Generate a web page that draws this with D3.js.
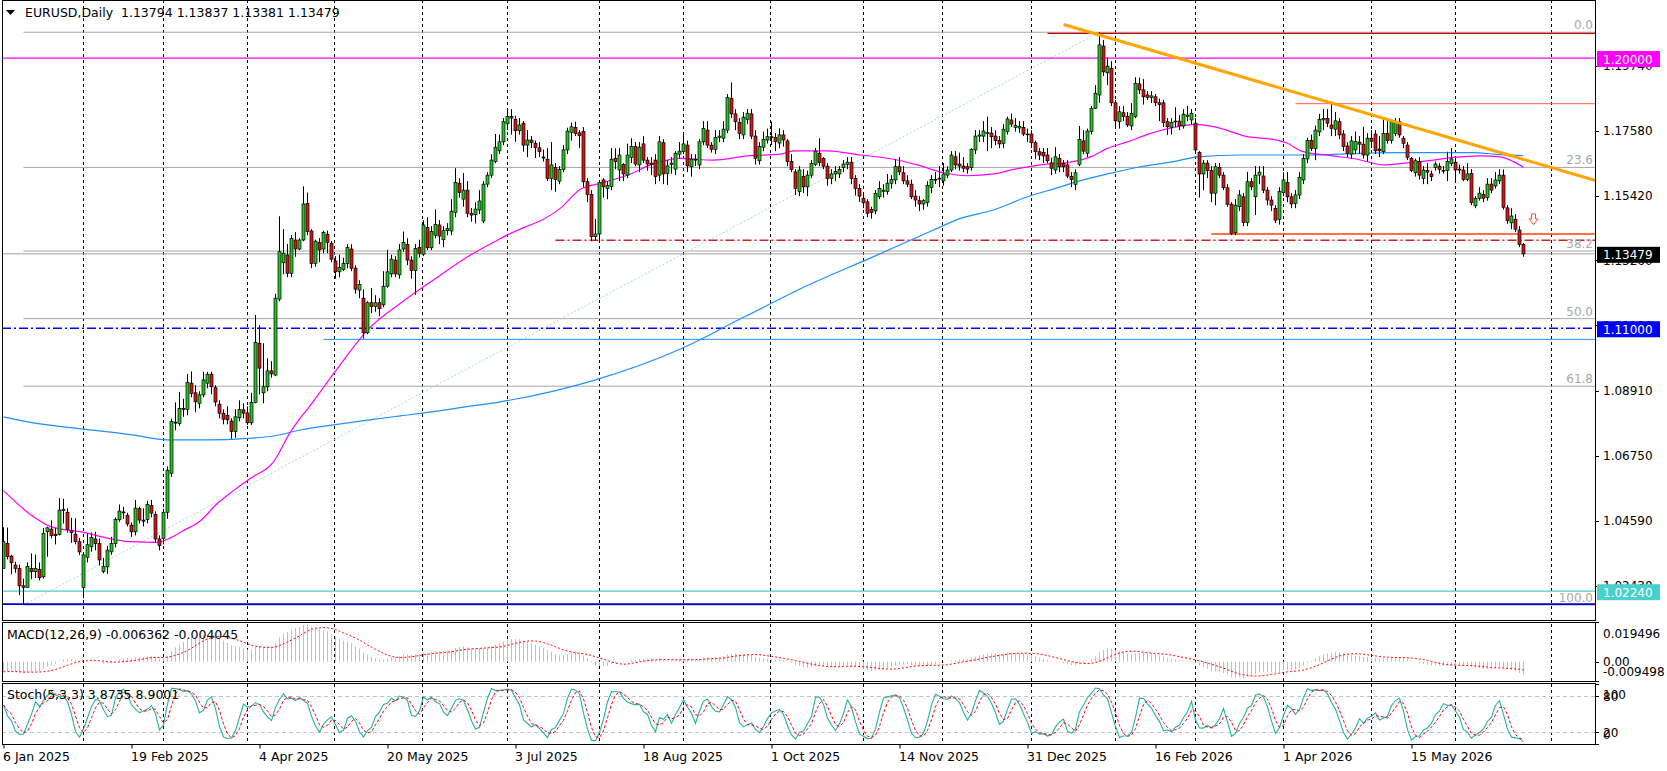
<!DOCTYPE html>
<html>
<head>
<meta charset="utf-8">
<script src="https://d3js.org/d3.v7.min.js"></script>
<style>
body{margin:0;background:#fff;}
svg{display:block;font-family:"DejaVu Sans",sans-serif;font-size:12px;}
</style>
</head>
<body>
<svg id="chart" width="1667" height="771"></svg>
<script>
// ---- daily EURUSD candles (bar 0 = 6 Jan 2025) ----
var opens = [
1.0300,1.0383,1.0341,1.0311,1.0300,1.0242,1.0237,1.0300,1.0289,1.0297,
1.0272,1.0422,1.0431,1.0414,1.0413,1.0494,1.0487,1.0425,1.0414,1.0389,
1.0237,1.0337,1.0372,1.0398,1.0383,1.0290,1.0305,1.0355,1.0383,1.0462,
1.0488,1.0477,1.0444,1.0422,1.0499,1.0461,1.0463,1.0510,1.0480,1.0398,
1.0400,1.0487,1.0617,1.0787,1.0783,1.0833,1.0829,1.0917,1.0885,1.0850,
1.0878,1.0917,1.0947,1.0902,1.0847,1.0817,1.0810,1.0791,1.0756,1.0802,
1.0828,1.0818,1.0785,1.0853,1.1050,1.0885,1.0905,1.0958,1.0944,1.1197,
1.1318,1.1344,1.1283,1.1394,1.1364,1.1394,1.1516,1.1424,1.1316,1.1386,
1.1364,1.1413,1.1383,1.1324,1.1288,1.1296,1.1316,1.1364,1.1300,1.1227,
1.1200,1.1085,1.1185,1.1172,1.1185,1.1178,1.1240,1.1281,1.1327,1.1278,
1.1364,1.1379,1.1327,1.1292,1.1369,1.1347,1.1436,1.1368,1.1410,1.1444,
1.1395,1.1425,1.1424,1.1486,1.1583,1.1530,1.1560,1.1483,1.1479,1.1494,
1.1457,1.1580,1.1610,1.1655,1.1691,1.1721,1.1781,1.1805,1.1796,1.1758,
1.1783,1.1710,1.1727,1.1716,1.1701,1.1670,1.1663,1.1599,1.1635,1.1590,
1.1629,1.1694,1.1752,1.1769,1.1751,1.1755,1.1588,1.1546,1.1405,1.1414,
1.1594,1.1566,1.1572,1.1666,1.1627,1.1646,1.1610,1.1669,1.1705,1.1644,
1.1714,1.1660,1.1650,1.1660,1.1610,1.1718,1.1616,1.1645,1.1630,1.1680,
1.1688,1.1710,1.1638,1.1663,1.1644,1.1721,1.1760,1.1710,1.1696,1.1736,
1.1733,1.1760,1.1866,1.1814,1.1785,1.1744,1.1796,1.1814,1.1740,1.1658,
1.1703,1.1727,1.1738,1.1736,1.1717,1.1744,1.1724,1.1655,1.1621,1.1555,
1.1605,1.1571,1.1610,1.1646,1.1683,1.1666,1.1640,1.1599,1.1614,1.1614,
1.1636,1.1646,1.1653,1.1599,1.1566,1.1533,1.1521,1.1496,1.1491,1.1538,
1.1556,1.1556,1.1583,1.1594,1.1638,1.1618,1.1591,1.1580,1.1540,1.1525,
1.1514,1.1519,1.1569,1.1596,1.1597,1.1591,1.1610,1.1627,1.1671,1.1647,
1.1640,1.1638,1.1636,1.1694,1.1740,1.1740,1.1750,1.1750,1.1740,1.1725,
1.1716,1.1755,1.1794,1.1769,1.1767,1.1769,1.1747,1.1747,1.1718,1.1688,
1.1685,1.1677,1.1651,1.1627,1.1666,1.1649,1.1644,1.1605,1.1579,1.1646,
1.1724,1.1683,1.1755,1.1833,1.1877,1.2040,1.1951,1.1966,1.1851,1.1788,
1.1818,1.1805,1.1774,1.1805,1.1914,1.1894,1.1877,1.1869,1.1871,1.1851,
1.1851,1.1788,1.1770,1.1790,1.1790,1.1774,1.1806,1.1794,1.1783,1.1685,
1.1614,1.1650,1.1625,1.1550,1.1635,1.1610,1.1568,1.1513,1.1418,1.1505,
1.1538,1.1452,1.1588,1.1538,1.1610,1.1607,1.1560,1.1527,1.1499,1.1463,
1.1552,1.1585,1.1538,1.1516,1.1544,1.1594,1.1664,1.1725,1.1699,1.1754,
1.1794,1.1799,1.1777,1.1763,1.1788,1.1747,1.1707,1.1680,1.1694,1.1720,
1.1713,1.1677,1.1733,1.1747,1.1697,1.1688,1.1749,1.1725,1.1749,1.1788,
1.1733,1.1710,1.1666,1.1618,1.1655,1.1599,1.1625,1.1614,1.1636,1.1640,
1.1625,1.1625,1.1649,1.1653,1.1630,1.1627,1.1596,1.1616,1.1508,1.1533,
1.1546,1.1536,1.1580,1.1574,1.1591,1.1610,1.1501,1.1451,1.1463,1.1427,1.13794];
var highs = [
1.0437,1.0436,1.0345,1.0322,1.0313,1.0266,1.0320,1.0350,1.0346,1.0320,
1.0435,1.0439,1.0460,1.0435,1.0534,1.0532,1.0500,1.0468,1.0467,1.0401,
1.0350,1.0418,1.0420,1.0422,1.0400,1.0335,1.0375,1.0405,1.0470,1.0513,
1.0505,1.0485,1.0453,1.0528,1.0505,1.0500,1.0525,1.0528,1.0490,1.0410,
1.0499,1.0640,1.0799,1.0853,1.0888,1.0865,1.0947,1.0956,1.0910,1.0890,
1.0955,1.0955,1.0955,1.0910,1.0860,1.0830,1.0840,1.0800,1.0830,1.0860,
1.0850,1.0840,1.0885,1.1144,1.1110,1.1050,1.1000,1.0990,1.1215,1.1473,
1.1430,1.1381,1.1410,1.1420,1.1400,1.1573,1.1552,1.1430,1.1395,1.1400,
1.1425,1.1425,1.1390,1.1340,1.1345,1.1335,1.1380,1.1380,1.1310,1.1260,
1.1230,1.1190,1.1234,1.1210,1.1200,1.1290,1.1361,1.1345,1.1340,1.1380,
1.1422,1.1400,1.1340,1.1380,1.1395,1.1460,1.1470,1.1440,1.1496,1.1460,
1.1440,1.1450,1.1530,1.1633,1.1600,1.1617,1.1590,1.1500,1.1520,1.1560,
1.1590,1.1620,1.1680,1.1747,1.1745,1.1800,1.1830,1.1830,1.1808,1.1800,
1.1790,1.1760,1.1740,1.1725,1.1720,1.1695,1.1700,1.1720,1.1650,1.1640,
1.1710,1.1768,1.1785,1.1788,1.1760,1.1770,1.1600,1.1560,1.1464,1.1590,
1.1600,1.1590,1.1700,1.1699,1.1700,1.1650,1.1715,1.1733,1.1720,1.1720,
1.1740,1.1670,1.1670,1.1680,1.1740,1.1730,1.1660,1.1670,1.1690,1.1720,
1.1744,1.1725,1.1680,1.1680,1.1730,1.1790,1.1790,1.1720,1.1760,1.1760,
1.1790,1.1880,1.1919,1.1830,1.1800,1.1820,1.1830,1.1830,1.1760,1.1720,
1.1755,1.1765,1.1788,1.1750,1.1766,1.1760,1.1730,1.1680,1.1630,1.1640,
1.1630,1.1625,1.1660,1.1700,1.1733,1.1670,1.1650,1.1630,1.1640,1.1640,
1.1660,1.1670,1.1670,1.1610,1.1580,1.1545,1.1530,1.1505,1.1560,1.1590,
1.1580,1.1614,1.1610,1.1663,1.1670,1.1640,1.1610,1.1595,1.1560,1.1540,
1.1530,1.1590,1.1610,1.1620,1.1640,1.1650,1.1640,1.1690,1.1690,1.1685,
1.1670,1.1650,1.1700,1.1760,1.1760,1.1790,1.1805,1.1770,1.1760,1.1740,
1.1780,1.1805,1.1815,1.1800,1.1790,1.1790,1.1765,1.1760,1.1725,1.1700,
1.1700,1.1700,1.1668,1.1703,1.1680,1.1660,1.1660,1.1620,1.1630,1.1774,
1.1760,1.1765,1.1840,1.1910,1.2086,1.2060,1.2002,1.1990,1.1860,1.1840,
1.1840,1.1820,1.1850,1.1936,1.1935,1.1930,1.1890,1.1890,1.1880,1.1865,
1.1860,1.1800,1.1800,1.1836,1.1810,1.1830,1.1840,1.1830,1.1800,1.1690,
1.1660,1.1660,1.1640,1.1650,1.1650,1.1620,1.1580,1.1520,1.1530,1.1560,
1.1550,1.1621,1.1600,1.1640,1.1640,1.1640,1.1570,1.1540,1.1510,1.1570,
1.1620,1.1620,1.1550,1.1560,1.1620,1.1680,1.1735,1.1745,1.1775,1.1814,
1.1830,1.1830,1.1855,1.1820,1.1800,1.1760,1.1720,1.1740,1.1755,1.1740,
1.1771,1.1750,1.1760,1.1760,1.1740,1.1803,1.1790,1.1795,1.1800,1.1800,
1.1740,1.1720,1.1670,1.1665,1.1670,1.1640,1.1650,1.1625,1.1655,1.1650,
1.1640,1.1688,1.1700,1.1665,1.1645,1.1640,1.1650,1.1630,1.1540,1.1570,
1.1560,1.1600,1.1600,1.1620,1.1630,1.1628,1.1510,1.1500,1.1480,1.1440,1.13837];
var lows = [
1.0299,1.0330,1.0280,1.0285,1.0211,1.0178,1.0235,1.0264,1.0268,1.0260,
1.0266,1.0339,1.0400,1.0380,1.0410,1.0450,1.0419,1.0385,1.0380,1.0345,
1.0201,1.0320,1.0356,1.0360,1.0310,1.0284,1.0282,1.0345,1.0370,1.0455,
1.0465,1.0440,1.0405,1.0410,1.0450,1.0440,1.0450,1.0470,1.0385,1.0360,
1.0380,1.0465,1.0605,1.0760,1.0775,1.0805,1.0810,1.0870,1.0820,1.0833,
1.0870,1.0900,1.0880,1.0840,1.0800,1.0780,1.0780,1.0732,1.0735,1.0790,
1.0800,1.0778,1.0778,1.0850,1.0880,1.0850,1.0890,1.0935,1.0940,1.1190,
1.1280,1.1270,1.1270,1.1338,1.1360,1.1390,1.1410,1.1300,1.1305,1.1320,
1.1350,1.1350,1.1320,1.1265,1.1270,1.1290,1.1300,1.1290,1.1215,1.1200,
1.1065,1.1080,1.1150,1.1155,1.1140,1.1170,1.1235,1.1270,1.1270,1.1265,
1.1355,1.1310,1.1265,1.1211,1.1335,1.1340,1.1360,1.1360,1.1400,1.1380,
1.1370,1.1410,1.1410,1.1470,1.1535,1.1505,1.1470,1.1455,1.1449,1.1480,
1.1450,1.1570,1.1600,1.1650,1.1680,1.1710,1.1760,1.1745,1.1721,1.1745,
1.1688,1.1670,1.1700,1.1667,1.1670,1.1655,1.1590,1.1560,1.1555,1.1580,
1.1620,1.1680,1.1725,1.1740,1.1700,1.1570,1.1520,1.1390,1.1392,1.1390,
1.1535,1.1530,1.1560,1.1630,1.1590,1.1590,1.1600,1.1650,1.1640,1.1620,
1.1650,1.1625,1.1610,1.1580,1.1590,1.1580,1.1577,1.1615,1.1610,1.1665,
1.1680,1.1620,1.1605,1.1640,1.1630,1.1710,1.1700,1.1685,1.1680,1.1720,
1.1720,1.1750,1.1800,1.1760,1.1730,1.1730,1.1780,1.1730,1.1645,1.1645,
1.1690,1.1715,1.1710,1.1690,1.1700,1.1705,1.1640,1.1620,1.1544,1.1540,
1.1550,1.1540,1.1600,1.1640,1.1640,1.1630,1.1575,1.1580,1.1590,1.1600,
1.1620,1.1630,1.1580,1.1542,1.1521,1.1500,1.1470,1.1465,1.1480,1.1530,
1.1535,1.1545,1.1565,1.1580,1.1610,1.1580,1.1570,1.1530,1.1505,1.1490,
1.1495,1.1505,1.1550,1.1580,1.1570,1.1575,1.1600,1.1620,1.1630,1.1625,
1.1620,1.1615,1.1625,1.1680,1.1720,1.1720,1.1690,1.1700,1.1710,1.1700,
1.1700,1.1745,1.1770,1.1755,1.1750,1.1740,1.1720,1.1700,1.1663,1.1660,
1.1650,1.1650,1.1610,1.1615,1.1620,1.1620,1.1600,1.1570,1.1560,1.1640,
1.1680,1.1670,1.1745,1.1830,1.1851,1.1940,1.1910,1.1840,1.1770,1.1765,
1.1790,1.1770,1.1760,1.1800,1.1880,1.1845,1.1860,1.1850,1.1840,1.1790,
1.1770,1.1744,1.1745,1.1770,1.1760,1.1765,1.1790,1.1780,1.1680,1.1535,
1.1560,1.1600,1.1520,1.1510,1.1600,1.1560,1.1505,1.1410,1.1410,1.1490,
1.1440,1.1440,1.1560,1.1477,1.1580,1.1550,1.1510,1.1490,1.1450,1.1445,
1.1540,1.1520,1.1500,1.1500,1.1530,1.1580,1.1650,1.1690,1.1660,1.1740,
1.1760,1.1770,1.1740,1.1740,1.1730,1.1690,1.1670,1.1665,1.1680,1.1680,
1.1665,1.1655,1.1700,1.1680,1.1670,1.1680,1.1715,1.1715,1.1740,1.1735,
1.1700,1.1660,1.1620,1.1605,1.1595,1.1580,1.1580,1.1590,1.1625,1.1615,
1.1615,1.1590,1.1640,1.1590,1.1615,1.1590,1.1590,1.1510,1.1500,1.1525,
1.1520,1.1525,1.1550,1.1565,1.1580,1.1495,1.1448,1.1430,1.1420,1.1370,1.13381];
var closes = [
1.0389,1.0339,1.0319,1.0300,1.0242,1.0237,1.0307,1.0289,1.0300,1.0269,
1.0417,1.0435,1.0409,1.0409,1.0494,1.0496,1.0430,1.0420,1.0389,1.0355,
1.0345,1.0379,1.0403,1.0383,1.0328,1.0307,1.0361,1.0383,1.0463,1.0491,
1.0485,1.0448,1.0422,1.0501,1.0461,1.0457,1.0513,1.0484,1.0398,1.0376,
1.0487,1.0627,1.0789,1.0784,1.0833,1.0829,1.0920,1.0883,1.0855,1.0878,
1.0928,1.0947,1.0905,1.0854,1.0817,1.0797,1.0795,1.0756,1.0805,1.0830,
1.0817,1.0785,1.0853,1.1053,1.0967,1.0905,1.0958,1.0948,1.1200,1.1355,
1.1350,1.1283,1.1399,1.1364,1.1394,1.1514,1.1422,1.1316,1.1390,1.1361,
1.1419,1.1386,1.1330,1.1288,1.1303,1.1316,1.1369,1.1300,1.1230,1.1246,
1.1085,1.1185,1.1172,1.1185,1.1165,1.1240,1.1288,1.1330,1.1281,1.1361,
1.1386,1.1327,1.1292,1.1366,1.1350,1.1444,1.1368,1.1422,1.1446,1.1407,
1.1425,1.1432,1.1490,1.1586,1.1552,1.1560,1.1483,1.1477,1.1497,1.1524,
1.1580,1.1610,1.1660,1.1703,1.1721,1.1788,1.1805,1.1800,1.1758,1.1777,
1.1710,1.1727,1.1718,1.1702,1.1688,1.1667,1.1599,1.1644,1.1596,1.1629,
1.1694,1.1757,1.1771,1.1749,1.1741,1.1588,1.1546,1.1405,1.1414,1.1586,
1.1571,1.1575,1.1663,1.1655,1.1677,1.1614,1.1677,1.1705,1.1647,1.1703,
1.1660,1.1647,1.1645,1.1605,1.1721,1.1614,1.1641,1.1650,1.1683,1.1690,
1.1714,1.1641,1.1663,1.1660,1.1721,1.1766,1.1710,1.1696,1.1736,1.1740,
1.1763,1.1869,1.1814,1.1788,1.1749,1.1803,1.1816,1.1740,1.1666,1.1705,
1.1729,1.1738,1.1736,1.1722,1.1744,1.1727,1.1655,1.1629,1.1566,1.1627,
1.1571,1.1610,1.1649,1.1690,1.1652,1.1640,1.1599,1.1614,1.1622,1.1629,
1.1647,1.1653,1.1599,1.1566,1.1540,1.1518,1.1483,1.1486,1.1549,1.1566,
1.1560,1.1583,1.1596,1.1638,1.1621,1.1591,1.1580,1.1538,1.1527,1.1514,
1.1525,1.1575,1.1596,1.1594,1.1600,1.1614,1.1627,1.1677,1.1644,1.1640,
1.1633,1.1630,1.1696,1.1740,1.1744,1.1757,1.1752,1.1738,1.1725,1.1714,
1.1763,1.1797,1.1780,1.1776,1.1772,1.1747,1.1745,1.1718,1.1688,1.1677,
1.1674,1.1658,1.1633,1.1671,1.1638,1.1638,1.1607,1.1596,1.1618,1.1729,
1.1690,1.1757,1.1833,1.1883,1.2044,1.1954,1.1973,1.1851,1.1791,1.1821,
1.1805,1.1777,1.1816,1.1916,1.1894,1.1871,1.1869,1.1874,1.1851,1.1845,
1.1785,1.1771,1.1786,1.1790,1.1774,1.1813,1.1810,1.1816,1.1694,1.1614,
1.1650,1.1625,1.1550,1.1638,1.1610,1.1568,1.1513,1.1416,1.1510,1.1544,
1.1452,1.1588,1.1571,1.1610,1.1620,1.1560,1.1527,1.1510,1.1460,1.1555,
1.1594,1.1538,1.1514,1.1544,1.1603,1.1666,1.1725,1.1699,1.1760,1.1796,
1.1799,1.1783,1.1766,1.1791,1.1744,1.1705,1.1683,1.1724,1.1722,1.1713,
1.1677,1.1733,1.1723,1.1691,1.1691,1.1749,1.1725,1.1788,1.1786,1.1744,
1.1716,1.1669,1.1625,1.1658,1.1610,1.1627,1.1620,1.1605,1.1647,1.1629,
1.1626,1.1655,1.1664,1.1627,1.1627,1.1596,1.1614,1.1518,1.1533,1.1550,
1.1533,1.1580,1.1560,1.1594,1.1610,1.1503,1.1458,1.1474,1.1430,1.1379,1.13479];

// moving averages: [bar, value]
var maMagenta = [[0,1.0559],[7.5,1.0472],[11.75,1.0439],[20,1.0420],[24.25,1.0406],[31.75,1.0389],[38.5,1.0387],
  [41,1.0397],[45,1.0426],[49.25,1.0459],[53.5,1.0517],[57.5,1.0559],[61.75,1.0600],[67.5,1.0655],[71.75,1.0755],
  [76.75,1.0844],[83.5,1.0966],[91,1.1094],[99.25,1.1183],[107.5,1.1261],[116.75,1.1344],[126,1.1411],[139.25,1.1500],
  [144.25,1.1563],[149.25,1.1583],[156.75,1.1614],[161.75,1.1644],[169.25,1.1666],[177.5,1.1660],[186,1.1674],
  [194.25,1.1680],[197.5,1.1691],[206,1.1691],[214.25,1.1677],[222.5,1.1663],[228.5,1.1644],[235,1.1618],[241,1.1608],
  [247.5,1.1614],[252.5,1.1629],[259.25,1.1644],[267.5,1.1655],[271.75,1.1671],[276,1.1699],[281,1.1721],[286.75,1.1749],
  [292.5,1.1769],[298,1.1779],[304.25,1.1766],[311,1.1738],[317.5,1.1729],[321,1.1716],[324.5,1.1690],[331.75,1.1675],
  [338.5,1.1663],[345,1.1644],[351,1.1651],[357.5,1.1660],[362.5,1.1669],[369.25,1.1674],[374.25,1.1671],[377.5,1.1655],[380,1.1636]];
var maBlue = [[0,1.0805],[7.5,1.0785],[20,1.0764],[32.5,1.0744],[41,1.0728],[51,1.0728],[61,1.0733],[67.5,1.0741],
  [74.25,1.0761],[82.5,1.0778],[91,1.0794],[99.25,1.0808],[107.5,1.0822],[116,1.0839],[124.25,1.0855],[148,1.0928],
  [169.25,1.1031],[185.25,1.1138],[201.25,1.1244],[217.25,1.1337],[232.5,1.1427],[239.25,1.1466],[247.5,1.1494],
  [256,1.1538],[264.25,1.1571],[267.5,1.1585],[276,1.1614],[284.25,1.1638],[292.5,1.1655],[298.5,1.1671],
  [309.25,1.1677],[324.25,1.1677],[347.5,1.1685],[367.5,1.1685],[374.25,1.1678],[380,1.1675]];

// time axis
var monthStarts = [20,40,61,83,105,126,149,170,192,215,235,257,278,298,320,342,363,387];
var dateLabelBars = [0,32,64,96,128,160,192,224,256,288,320,352];
var dateLabels = ["6 Jan 2025","19 Feb 2025","4 Apr 2025","20 May 2025","3 Jul 2025","18 Aug 2025",
  "1 Oct 2025","14 Nov 2025","31 Dec 2025","16 Feb 2026","1 Apr 2026","15 May 2026"];
var priceTicks = [1.19740,1.17580,1.15420,1.13260,1.11100,1.08910,1.06750,1.04590,1.02430];

// objects drawn on the chart
var fibLow = {bar:5, price:1.0178}, fibHigh = {bar:274, price:1.2086};
var fibLevels = [0, 23.6, 38.2, 50, 61.8, 100];
var trendA = {bar:265, price:1.2112}, trendB = {bar:398, price:1.1592};
var bidPrice = 1.13479;
var headerText = "EURUSD,Daily  1.13794 1.13837 1.13381 1.13479";
var macdText = "MACD(12,26,9) -0.006362 -0.004045";
var stochText = "Stoch(5,3,3) 3.8735 8.9001";
var macdTicks = [0.019496, 0, -0.009498], macdTickText = ["0.019496","0.00","-0.009498"];
var stochTicks = [100, 80, 20, 0];
var emaSeedFast = 1.0362, emaSeedSlow = 1.0418; // averages before the first visible bar

var svg = d3.select("#chart");
var L = 2, R = 1595;
var mainTop = 0, mainBot = 620, macdTop = 622, macdBot = 681, stTop = 683, stBot = 744;

var x = d3.scaleLinear().domain([0, 398]).range([3.5, 3.5 + 4 * 398]);
var y = d3.scaleLinear().domain([1.01281, 1.21934]).range([mainBot, mainTop]);
var yM = d3.scaleLinear().domain([-0.009498, 0.019496]).range([macdBot, macdTop]);
var yS = d3.scaleLinear().domain([0, 100]).range([stBot + 0.4, stTop + 1]);

var defs = svg.append("defs");
function clip(id, t, b) {
  defs.append("clipPath").attr("id", id).append("rect")
    .attr("x", L).attr("y", t).attr("width", R - L).attr("height", b - t);
}
clip("cMain", mainTop, mainBot); clip("cMacd", macdTop, macdBot); clip("cSt", stTop, stBot);

// month grid
svg.append("g").selectAll("line").data(monthStarts).enter().append("line")
  .attr("x1", d => Math.round(x(d)) - 0.5).attr("x2", d => Math.round(x(d)) - 0.5)
  .attr("y1", mainTop).attr("y2", stBot)
  .attr("stroke", "#000").attr("stroke-dasharray", "3,3").attr("shape-rendering", "crispEdges");

var main = svg.append("g").attr("clip-path", "url(#cMain)");

function hline(p, x1, color, w, dash) {
  main.append("line").attr("x1", x1).attr("x2", R).attr("y1", y(p)).attr("y2", y(p))
    .attr("stroke", color).attr("stroke-width", w).attr("stroke-dasharray", dash || null);
}

// fibonacci levels
var fibRange = fibHigh.price - fibLow.price;
fibLevels.forEach(function (lv) {
  var p = fibHigh.price - fibRange * lv / 100;
  hline(p, x(fibLow.bar), "#a8a8a8", 1);
  svg.append("text").attr("x", 1593).attr("y", y(p) - 3).attr("text-anchor", "end")
    .attr("fill", "#a8a8a8").text(lv === 0 ? "0.0" : lv === 100 ? "100.0" : lv.toFixed(1));
});
main.append("line").attr("x1", x(fibLow.bar)).attr("y1", y(fibLow.price))
  .attr("x2", x(fibHigh.bar)).attr("y2", y(fibHigh.price))
  .attr("stroke", "#a8d8e0").attr("stroke-dasharray", "2,2");

hline(bidPrice, L, "#a0a0a0", 1);
hline(1.2000, L, "#ff00ff", 1.3);
hline(1.1100, L, "#0000ff", 1.4, "9,3,2,3");
hline(1.0224, L, "#48d1cc", 1.3);
hline(1.0181, L, "#0000cd", 1.6);
hline(1.2082, x(261), "#c40000", 1.2);
hline(1.1848, x(323), "#ff5b4b", 1);
hline(1.1414, x(302), "#ff4500", 1.5);
hline(1.1393, x(138), "#d42020", 1.4, "9,3,2,3");
hline(1.1063, x(80), "#1e90ff", 1);

// moving averages
var maLine = d3.line().x(d => x(d[0])).y(d => y(d[1])).curve(d3.curveMonotoneX);
main.append("path").attr("d", maLine(maBlue)).attr("fill", "none").attr("stroke", "#1e90ff").attr("stroke-width", 1.2);
main.append("path").attr("d", maLine(maMagenta)).attr("fill", "none").attr("stroke", "#ff00ff").attr("stroke-width", 1.2);

// candles
var idx = d3.range(closes.length);
var cg = main.append("g");
cg.selectAll("line").data(idx).enter().append("line")
  .attr("x1", i => x(i)).attr("x2", i => x(i))
  .attr("y1", i => y(highs[i])).attr("y2", i => y(lows[i]))
  .attr("stroke", "#000").attr("stroke-width", 1);
cg.selectAll("rect").data(idx).enter().append("rect")
  .attr("x", i => x(i) - 1.5).attr("width", 3)
  .attr("y", i => y(Math.max(opens[i], closes[i])))
  .attr("height", i => Math.max(0.8, Math.abs(y(opens[i]) - y(closes[i]))))
  .attr("fill", i => closes[i] >= opens[i] ? "#25c425" : "#d01818")
  .attr("stroke", "#000").attr("stroke-width", 0.7);

// trendline
main.append("line").attr("x1", x(trendA.bar)).attr("y1", y(trendA.price))
  .attr("x2", x(trendB.bar)).attr("y2", y(trendB.price))
  .attr("stroke", "#ffa500").attr("stroke-width", 3);

// sell arrow
var ax = x(382.5), at = y(1.1481), ab = y(1.1445);
main.append("path")
  .attr("d", "M" + (ax - 2) + "," + at + "h4v5h2.5L" + ax + "," + ab + "L" + (ax - 4.5) + "," + (at + 5) + "h2.5z")
  .attr("fill", "#fff").attr("stroke", "#ff4a3a").attr("stroke-width", 1);

// ---- MACD ----
var macd = [], sig = [];
var ef = emaSeedFast, es = emaSeedSlow;
closes.forEach(function (c, i) {
  ef = ef + 2 / 13 * (c - ef);
  es = es + 2 / 27 * (c - es);
  macd.push(ef - es);
  var s = macd.slice(Math.max(0, i - 8), i + 1);
  sig.push(d3.mean(s));
});
var mg = svg.append("g").attr("clip-path", "url(#cMacd)");
mg.selectAll("line").data(idx).enter().append("line")
  .attr("x1", i => x(i)).attr("x2", i => x(i))
  .attr("y1", yM(0)).attr("y2", i => yM(macd[i]))
  .attr("stroke", "#c0c0c0").attr("stroke-width", 1);
mg.append("path").attr("d", d3.line().x((d, i) => x(i)).y(d => yM(d))(sig))
  .attr("fill", "none").attr("stroke", "#ff0000").attr("stroke-dasharray", "2,2");

// ---- Stochastic ----
var kNum = [], kDen = [];
idx.forEach(function (i) {
  var a = Math.max(0, i - 4);
  var ll = d3.min(lows.slice(a, i + 1)), hh = d3.max(highs.slice(a, i + 1));
  kNum.push(closes[i] - ll); kDen.push(hh - ll);
});
var stK = idx.map(function (i) {
  var a = Math.max(0, i - 2);
  return 100 * d3.sum(kNum.slice(a, i + 1)) / d3.sum(kDen.slice(a, i + 1));
});
var stD = idx.map(function (i) { return d3.mean(stK.slice(Math.max(0, i - 2), i + 1)); });
var sg = svg.append("g").attr("clip-path", "url(#cSt)");
[80, 20].forEach(function (v) {
  sg.append("line").attr("x1", L).attr("x2", R).attr("y1", Math.round(yS(v)) + 0.5).attr("y2", Math.round(yS(v)) + 0.5)
    .attr("stroke", "#c4c4c4").attr("stroke-dasharray", "4,3");
});
var stLine = d3.line().x((d, i) => x(i)).y(d => yS(d));
sg.append("path").attr("d", stLine(stK)).attr("fill", "none").attr("stroke", "#20b2aa").attr("stroke-width", 1.1);
sg.append("path").attr("d", stLine(stD)).attr("fill", "none").attr("stroke", "#ff0000").attr("stroke-dasharray", "3,2");

// ---- frames ----
[[mainTop, mainBot], [macdTop, macdBot], [stTop, stBot]].forEach(function (p) {
  svg.append("rect").attr("x", L + 0.5).attr("y", p[0] + 0.5).attr("width", R - L).attr("height", p[1] - p[0])
    .attr("fill", "none").attr("stroke", "#000").attr("shape-rendering", "crispEdges");
});

// price axis
var pa = svg.append("g");
priceTicks.forEach(function (v) {
  var py = Math.round(y(v)) + 0.5;
  pa.append("line").attr("x1", R).attr("x2", R + 4).attr("y1", py).attr("y2", py).attr("stroke", "#000");
  pa.append("text").attr("x", R + 8).attr("y", y(v) + 4.5).text(v.toFixed(5));
});
// price tags
[[1.20000, "#ff00ff"], [bidPrice, "#000000"], [1.11000, "#0000ff"], [1.02240, "#48d1cc"]].forEach(function (t) {
  var cy = y(t[0]) + 1;
  pa.append("rect").attr("x", R + 2).attr("y", cy - 8).attr("width", 63).attr("height", 16).attr("fill", t[1]);
  pa.append("text").attr("x", R + 8).attr("y", cy + 4.5).attr("fill", "#fff").text(t[0].toFixed(5));
});

// indicator axes
function clampLab(v, t, b) { return Math.max(t + 11, Math.min(b - 10, v)); }
macdTicks.forEach(function (v, k) {
  var py = Math.round(yM(v)) + 0.5;
  svg.append("line").attr("x1", R).attr("x2", R + 4).attr("y1", py).attr("y2", py).attr("stroke", "#000");
  svg.append("text").attr("x", R + 8).attr("y", clampLab(yM(v), macdTop, macdBot) + 4.5).text(macdTickText[k]);
});
stochTicks.forEach(function (v) {
  var py = Math.round(yS(v)) + 0.5;
  svg.append("line").attr("x1", R).attr("x2", R + 4).attr("y1", py).attr("y2", py).attr("stroke", "#000");
  svg.append("text").attr("x", R + 8).attr("y", clampLab(yS(v), stTop, stBot) + 4.5).text(String(v));
});

// date axis
var da = svg.append("g").attr("transform", "translate(0," + (stBot + 0.5) + ")")
  .call(d3.axisBottom(x).tickValues(dateLabelBars).tickSize(4).tickPadding(4)
    .tickFormat((d, k) => dateLabels[k]));
da.select(".domain").remove();
da.selectAll("text").attr("text-anchor", "start").attr("dx", -1)
  .style("font-family", '"DejaVu Sans",sans-serif').style("font-size", "12.5px").attr("fill", "#000");
da.selectAll(".tick line").attr("stroke", "#000");

// labels
svg.append("path").attr("d", "M6,10H15L10.5,15Z").attr("fill", "#000");
svg.append("text").attr("x", 25).attr("y", 17).style("white-space", "pre").style("font-size", "12.5px").text(headerText);
svg.append("text").attr("x", 7).attr("y", 639).style("font-size", "12.5px").text(macdText);
svg.append("text").attr("x", 7).attr("y", 699).style("font-size", "12.5px").text(stochText);
</script>
</body>
</html>
